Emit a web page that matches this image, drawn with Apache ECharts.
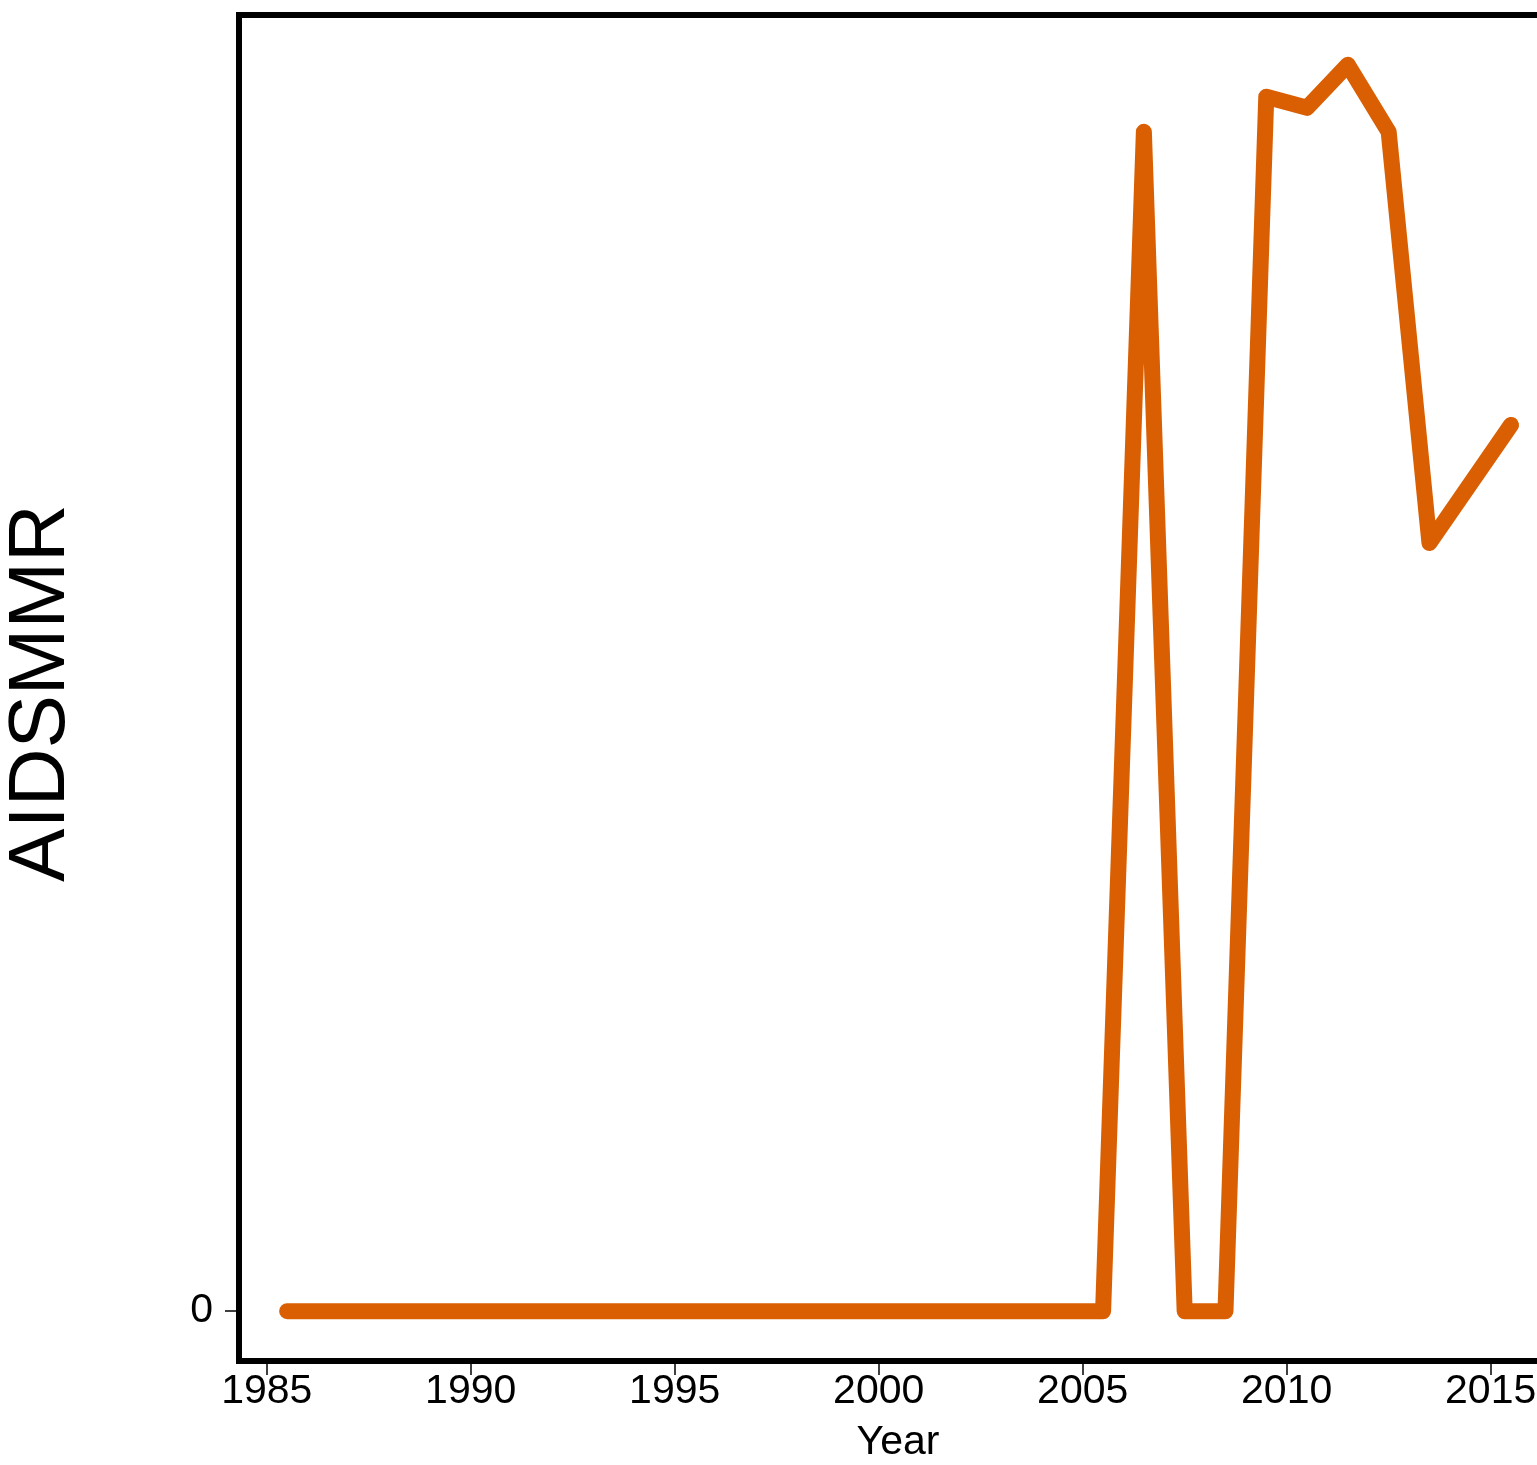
<!DOCTYPE html>
<html>
<head>
<meta charset="utf-8">
<script src="https://cdn.jsdelivr.net/npm/echarts@6/dist/echarts.min.js"></script>
<style>
html,body{margin:0;padding:0;background:#fff;}
#chart{width:1537px;height:1465px;}
</style>
</head>
<body>
<div id="chart"></div>
<script>
// Data (arbitrary y units; only 0 is labelled)
var years = [1985.5,1986.5,1987.5,1988.5,1989.5,1990.5,1991.5,1992.5,1993.5,1994.5,
             1995.5,1996.5,1997.5,1998.5,1999.5,2000.5,2001.5,2002.5,2003.5,2004.5,
             2005.5,2006.5,2007.5,2008.5,2009.5,2010.5,2011.5,2012.5,2013.5,2015.5];
var aidsmmr = [0,0,0,0,0,0,0,0,0,0,
               0,0,0,0,0,0,0,0,0,0,
               0,11.79,0,0,12.14,12.03,12.46,11.79,7.68,8.86];
var xTicks = [1985,1990,1995,2000,2005,2010,2015];
var yTicks = [0];

var FONT = '"Liberation Sans", Arial, sans-serif';
var seriesData = years.map(function(y, i){ return [y, aidsmmr[i]]; });

var chart = echarts.init(document.getElementById('chart'), null, {renderer:'canvas'});
chart.setOption({
  backgroundColor:'#fff',
  animation:false,
  grid:{left:239, top:15, width:1321, height:1346, outerBoundsMode:'none', containLabel:false,
        show:true, borderColor:'#000', borderWidth:6, backgroundColor:'transparent'},
  xAxis:{
    type:'value', min:1984.32, max:2016.7,
    axisLine:{show:false, onZero:false},
    splitLine:{show:false},
    axisTick:{show:true, customValues:xTicks, length:14, inside:false, lineStyle:{color:'#000', width:1.5}},
    axisLabel:{customValues:xTicks, color:'#000', fontSize:41, fontFamily:FONT, margin:10,
               formatter:function(v){ return String(v); }}
  },
  yAxis:{
    type:'value', min:-0.4984, max:12.958,
    axisLine:{show:false, onZero:false},
    splitLine:{show:false},
    axisTick:{show:true, customValues:yTicks, length:14, lineStyle:{color:'#000', width:1.5}},
    axisLabel:{customValues:yTicks, color:'#000', fontSize:41, fontFamily:FONT, margin:26,
               formatter:function(v){ return String(v); }}
  },
  graphic:[
    {type:'text', x:42, y:693, rotation:Math.PI/2,
     style:{text:'AIDSMMR', font:'80px '+FONT, fill:'#000', textAlign:'center', textVerticalAlign:'middle'}},
    {type:'text', x:898, y:1443,
     style:{text:'Year', font:'41px '+FONT, fill:'#000', textAlign:'center', textVerticalAlign:'middle'}}
  ],
  series:[{
    type:'line', data:seriesData, showSymbol:false, symbol:'none', smooth:false,
    lineStyle:{color:'#D95F02', width:16, cap:'round', join:'round'},
    clip:false
  }]
});
</script>
</body>
</html>
